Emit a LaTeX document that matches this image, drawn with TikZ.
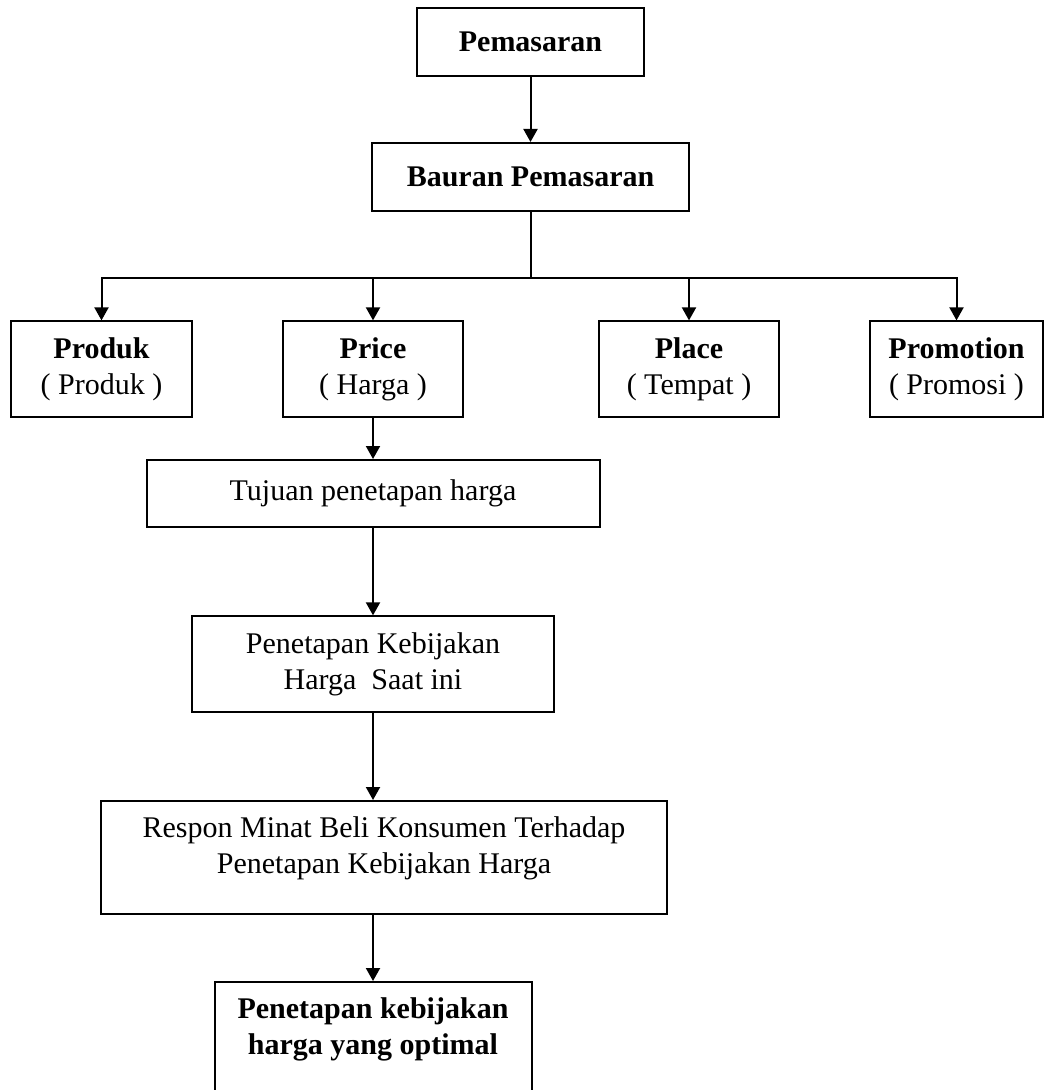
\documentclass[tikz,border=0pt]{standalone}
\usepackage{fontspec}
\setmainfont{Liberation Serif}
\usetikzlibrary{arrows.meta}

\begin{document}
\begin{tikzpicture}[x=0.5pt, y=-0.5pt, line width=1pt,
  font=\fontsize{15}{18}\selectfont,
  Block/.style={draw, align=center, inner xsep=4pt, inner ysep=8pt},
  Link/.style={-{Triangle[length=6.5pt, width=7pt]}}]

\useasboundingbox (0,0) rectangle (1045,1090);
\clip (0,0) rectangle (1045,1090);

\node [Block, minimum width=113.5pt, minimum height=34pt] (pemasaran) at (530.5, 42) {\textbf{Pemasaran}};
\node [Block, minimum width=158.5pt, minimum height=34pt] (bauran) at (530.5, 177) {\textbf{Bauran Pemasaran}};

\foreach \pos/\name/\mixname/\mixlocal/\boxw in {101.5/produk/Produk/Produk/90.5, 373/price/Price/Harga/90, 689/place/Place/Tempat/90, 956.5/promotion/Promotion/Promosi/86.5} {
  \node [Block, minimum width=\boxw pt, minimum height=46pt] (\name) at (\pos, 369) {\textbf{\mixname}\\( \mixlocal\ )};
}

\node [Block, minimum width=226.5pt, minimum height=33.5pt] (tujuan) at (373, 493.5) {Tujuan penetapan harga};
\node [Block, minimum width=181pt, minimum height=45pt] (saatini) at (373, 664) {Penetapan Kebijakan\\Harga\ \ Saat ini};
\node [Block, anchor=north, minimum width=283pt, text height=28.25pt, text depth=12.25pt] (respon) at (384, 800) {Respon Minat Beli Konsumen Terhadap\\Penetapan Kebijakan Harga};
\node [Block, anchor=north, minimum width=158.5pt, text height=28.25pt, text depth=40pt] (optimal) at (373, 981) {\textbf{Penetapan kebijakan}\\\textbf{harga yang optimal}};

\coordinate (split) at (530.5, 278);

\draw [Link] (pemasaran) -- (bauran);
\draw (bauran) -- (split);
\foreach \name in {produk, price, place, promotion} {
  \draw [Link] (split) -| (\name);
}

\draw [Link] (price) -- (tujuan);
\draw [Link] (tujuan) -- (saatini);
\draw [Link] (saatini) -- (saatini |- respon.north);
\draw [Link] (respon.south -| optimal) -- (optimal);
\end{tikzpicture}
\end{document}
